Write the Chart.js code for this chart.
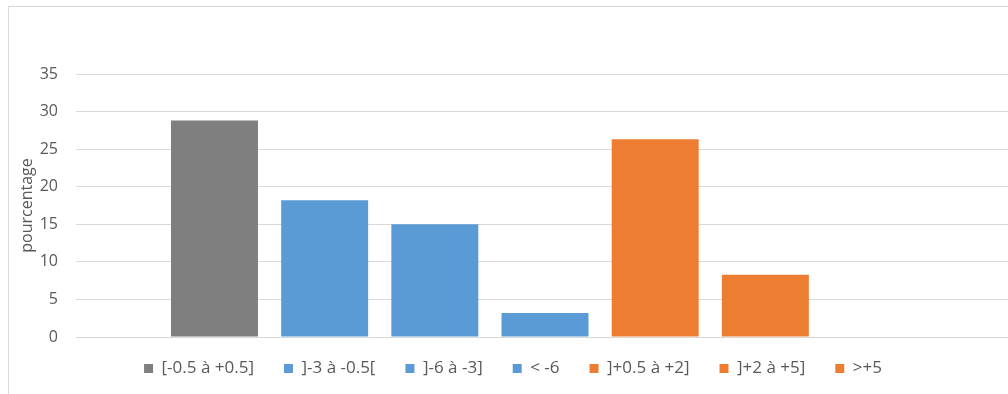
<!DOCTYPE html>
<html>
<head>
  <meta charset="utf-8">
  <title>pourcentage</title>
  <script src="https://cdn.jsdelivr.net/npm/chart.js"></script>
  <style>
    html, body {
      margin: 0;
      padding: 0;
      background: #fff;
      overflow: hidden;
    }
    .frame {
      position: absolute;
      left: 8px;
      top: 6px;
      width: 1100px;
      height: 500px;
      border-left: 1px solid #d9d9d9;
      border-top: 1px solid #d9d9d9;
    }
    .chart-box {
      position: absolute;
      left: 0;
      top: 0;
    }
  </style>
</head>
<body>
  <div class="frame"></div>
  <div class="chart-box">
    <canvas id="barChart" width="1016" height="394"></canvas>
  </div>

  <script>
    // one bar per class (Excel: one category, seven series)
    const classes = ['[-0.5 à +0.5]', ']-3 à -0.5[', ']-6 à -3]', '< -6', ']+0.5 à +2]', ']+2 à +5]', '>+5'];
    const percentages = [28.8, 18.2, 15.0, 3.2, 26.3, 8.3, 0];
    const yTicks = [0, 5, 10, 15, 20, 25, 30, 35];

    const colours = ['#7f7f7f', '#5b9bd5', '#5b9bd5', '#5b9bd5', '#ed7d31', '#ed7d31', '#ed7d31'];
    const textGrey = '#595959';
    const font = 'Open Sans';

    // legend sits a bit higher and to the right in the original
    const legendNudge = {
      id: 'legendNudge',
      afterLayout(chart) {
        const lg = chart.legend;
        if (!lg) return;
        lg.top -= 7; lg.bottom -= 7;
        lg.left += 6; lg.right += 6;
      }
    };

    const ctx = document.getElementById('barChart').getContext('2d');
    new Chart(ctx, {
      type: 'bar',
      data: {
        labels: [''],
        datasets: classes.map((name, i) => ({
          label: name,
          data: [percentages[i]],
          backgroundColor: colours[i],
          borderWidth: 0,
          categoryPercentage: 0.8222,
          barPercentage: 0.7895
        }))
      },
      options: {
        responsive: false,
        animation: false,
        layout: { padding: { top: 74, right: 2, left: 0, bottom: 0 } },
        plugins: {
          tooltip: { enabled: false },
          legend: {
            position: 'bottom',
            labels: {
              boxWidth: 9,
              boxHeight: 9,
              padding: 30,
              color: textGrey,
              font: { family: font, size: 17 }
            }
          }
        },
        scales: {
          x: { display: false },
          y: {
            min: yTicks[0],
            max: yTicks[yTicks.length - 1],
            afterBuildTicks(scale) {
              scale.ticks = yTicks.map(v => ({ value: v }));
            },
            afterFit(scale) { scale.width = 76; },
            ticks: {
              padding: 18,
              color: textGrey,
              font: { family: font, size: 16 }
            },
            grid: { color: '#d9d9d9', lineWidth: 1, drawTicks: false },
            border: { display: false },
            title: {
              display: true,
              text: 'pourcentage',
              color: textGrey,
              font: { family: font, size: 16 },
              padding: { top: 18, bottom: 0 }
            }
          }
        }
      },
      plugins: [legendNudge]
    });
  </script>
</body>
</html>
